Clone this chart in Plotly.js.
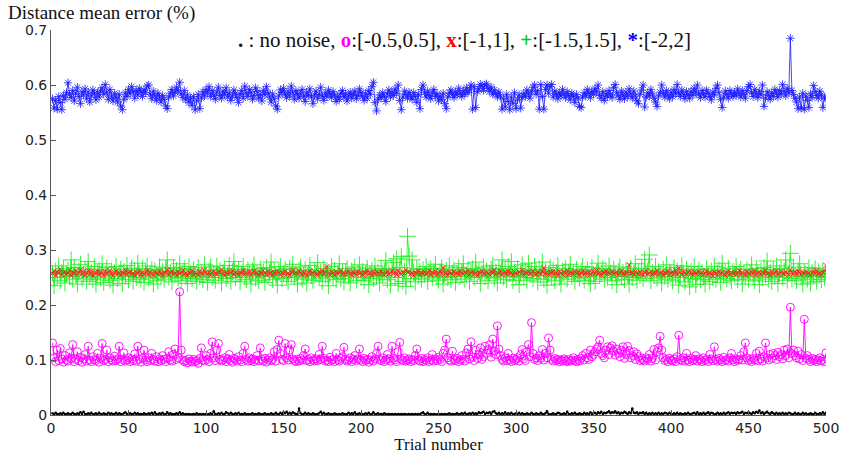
<!DOCTYPE html>
<html>
<head>
<meta charset="utf-8">
<script src="https://cdn.plot.ly/plotly-3.0.1.min.js"></script>
<style>html,body{margin:0;padding:0;background:#fff}#chart{width:844px;height:454px}</style>
</head>
<body>
<div id="chart"></div>
<script>
// Trial numbers 1..500 (x axis categories)
const trials = Array.from({length: 500}, (_, i) => i + 1);
const xTicks = [0, 50, 100, 150, 200, 250, 300, 350, 400, 450, 500];
const yTicks = [0, 0.1, 0.2, 0.3, 0.4, 0.5, 0.6, 0.7];
const yTickLabels = ['0', '0.1', '0.2', '0.3', '0.4', '0.5', '0.6', '0.7'];

// "*" noise [-2,2]
const noise2 = [
.575,.558,.572,.556,.579,.568,.555,.581,.574,.586,.604,.583,.577,.590,.571,.585,.596,.579,.566,.588,
.582,.593,.575,.587,.569,.580,.591,.584,.573,.586,.578,.589,.595,.583,.601,.587,.574,.592,.580,.571,
.585,.577,.569,.583,.562,.555,.574,.586,.579,.592,.584,.597,.588,.576,.590,.582,.594,.587,.579,.591,
.586,.598,.600,.583,.575,.589,.581,.572,.585,.578,.569,.581,.574,.562,.557,.578,.585,.592,.580,.587,
.596,.589,.605,.584,.577,.590,.573,.582,.568,.576,.563,.579,.555,.571,.583,.557,.576,.588,.580,.592,
.585,.597,.579,.590,.582,.574,.587,.596,.581,.576,.589,.583,.595,.578,.586,.572,.580,.591,.584,.577,
.568,.583,.590,.576,.598,.585,.579,.592,.587,.574,.581,.595,.588,.576,.583,.571,.590,.582,.597,.586,
.578,.569,.584,.575,.562,.556,.580,.591,.587,.594,.583,.577,.589,.580,.598,.586,.574,.590,.583,.576,
.584,.592,.579,.570,.587,.581,.593,.578,.566,.582,.589,.575,.583,.596,.580,.572,.586,.579,.591,.584,
.577,.588,.582,.570,.579,.574,.585,.590,.578,.584,.571,.580,.587,.576,.583,.589,.575,.581,.593,.586,
.579,.572,.585,.576,.590,.583,.597,.605,.568,.553,.574,.582,.577,.586,.579,.570,.584,.591,.578,.587,
.581,.593,.585,.600,.572,.555,.578,.589,.583,.576,.587,.580,.574,.586,.579,.568,.583,.557,.592,.600,
.586,.578,.589,.581,.575,.586,.592,.579,.584,.571,.580,.573,.585,.566,.557,.578,.586,.591,.583,.577,
.588,.582,.594,.585,.579,.590,.583,.595,.586,.591,.600,.556,.597,.559,.588,.593,.601,.598,.590,.600,
.602,.594,.588,.596,.583,.591,.585,.578,.587,.580,.556,.575,.560,.583,.570,.555,.578,.566,.586,.557,
.573,.582,.558,.577,.585,.579,.591,.584,.576,.588,.596,.600,.583,.590,.556,.601,.579,.556,.592,.600,
.585,.597,.601,.578,.589,.583,.575,.586,.580,.592,.584,.577,.588,.581,.573,.585,.579,.568,.583,.576,
.561,.559,.578,.586,.580,.592,.585,.577,.589,.583,.594,.587,.600,.581,.576,.588,.572,.584,.579,.590,
.583,.577,.595,.601,.586,.580,.574,.589,.582,.575,.587,.579,.593,.584,.576,.589,.580,.571,.566,.583,
.591,.600,.560,.578,.586,.580,.592,.584,.576,.569,.561,.580,.587,.600,.585,.578,.590,.582,.575,.587,
.579,.592,.584,.601,.586,.579,.591,.583,.575,.588,.582,.576,.589,.581,.594,.586,.600,.583,.577,.590,
.584,.578,.591,.585,.579,.573,.587,.582,.594,.600,.586,.574,.559,.578,.589,.583,.576,.590,.584,.579,
.587,.581,.593,.585,.578,.590,.583,.576,.589,.597,.601,.586,.579,.592,.584,.577,.589,.582,.600,.561,
.576,.588,.581,.574,.586,.579,.592,.585,.578,.590,.583,.601,.588,.580,.594,.586,.685,.590,.583,.576,
.569,.557,.578,.558,.585,.556,.580,.572,.559,.584,.577,.599,.588,.581,.576,.589,.582,.559,.578,.575
];

// "+" noise [-1.5,1.5]
const noise15 = [
.258,.235,.262,.250,.271,.244,.259,.266,.240,.257,.263,.252,.282,.247,.268,.255,.238,.261,.274,.249,
.256,.265,.243,.279,.252,.260,.246,.270,.238,.258,.264,.249,.275,.241,.257,.268,.253,.245,.262,.236,
.259,.270,.248,.256,.265,.239,.261,.252,.272,.246,.258,.267,.243,.263,.250,.276,.254,.247,.266,.241,
.260,.271,.249,.257,.264,.238,.262,.255,.244,.269,.253,.261,.247,.266,.282,.251,.259,.242,.268,.256,
.263,.249,.275,.244,.258,.266,.252,.239,.270,.257,.248,.264,.255,.243,.268,.251,.260,.246,.273,.256,
.241,.262,.269,.250,.257,.245,.271,.255,.263,.240,.259,.266,.248,.254,.272,.243,.261,.279,.250,.257,
.265,.242,.258,.270,.253,.246,.264,.256,.238,.262,.273,.249,.257,.244,.266,.255,.260,.241,.268,.252,
.259,.278,.246,.263,.254,.236,.261,.270,.248,.257,.265,.250,.243,.267,.256,.274,.251,.259,.238,.262,
.269,.247,.255,.264,.240,.258,.272,.253,.245,.261,.256,.277,.249,.260,.243,.266,.254,.262,.235,.258,
.270,.251,.263,.246,.257,.275,.248,.261,.242,.259,.266,.253,.240,.262,.256,.269,.245,.258,.273,.250,
.261,.244,.257,.267,.237,.255,.263,.248,.271,.252,.259,.240,.266,.254,.262,.281,.246,.258,.236,.265,
.277,.250,.284,.239,.268,.288,.243,.262,.234,.325,.289,.248,.282,.259,.242,.266,.253,.261,.247,.264,
.255,.270,.243,.258,.266,.249,.261,.274,.252,.245,.260,.267,.238,.256,.263,.250,.271,.246,.258,.264,
.241,.257,.268,.252,.260,.275,.247,.255,.263,.243,.259,.266,.250,.278,.254,.261,.239,.258,.269,.251,
.262,.244,.257,.265,.272,.249,.260,.240,.266,.255,.282,.251,.263,.246,.270,.257,.279,.244,.260,.253,
.266,.237,.258,.273,.250,.262,.245,.276,.256,.263,.248,.270,.259,.242,.265,.254,.278,.247,.261,.236,
.257,.268,.251,.263,.244,.259,.272,.250,.238,.262,.255,.266,.247,.260,.274,.252,.258,.243,.265,.256,
.249,.262,.270,.245,.257,.264,.251,.239,.268,.256,.243,.260,.276,.253,.258,.266,.247,.262,.250,.271,
.258,.244,.265,.256,.237,.261,.269,.252,.259,.246,.263,.255,.238,.267,.250,.258,.275,.245,.261,.253,
.266,.248,.283,.257,.262,.291,.244,.259,.254,.270,.249,.261,.256,.240,.265,.252,.273,.247,.260,.257,
.244,.268,.253,.262,.236,.250,.271,.258,.242,.265,.255,.233,.261,.248,.270,.237,.257,.264,.246,.259,
.252,.238,.266,.255,.243,.262,.250,.270,.247,.258,.263,.241,.276,.254,.260,.248,.267,.252,.244,.261,
.256,.270,.246,.259,.265,.238,.257,.251,.264,.247,.260,.273,.253,.244,.266,.257,.237,.262,.250,.268,
.255,.280,.247,.259,.243,.264,.252,.271,.239,.258,.266,.250,.261,.282,.245,.257,.294,.248,.269,.253,
.244,.262,.275,.251,.238,.260,.256,.247,.268,.240,.259,.252,.266,.243,.261,.255,.246,.263,.250,.257
];

// "x" noise [-1,1]
const noise1 = [
.257,.262,.254,.260,.258,.265,.255,.259,.261,.256,.258,.263,.253,.260,.257,.262,.255,.259,.264,.256,
.260,.254,.258,.263,.256,.261,.253,.259,.257,.262,.255,.260,.258,.254,.261,.256,.259,.263,.257,.253,
.259,.262,.256,.258,.254,.260,.257,.263,.255,.259,.261,.256,.258,.253,.260,.257,.262,.255,.259,.256,
.258,.263,.255,.260,.257,.254,.261,.258,.256,.262,.257,.253,.260,.258,.264,.255,.259,.262,.256,.258,
.254,.261,.257,.259,.263,.256,.258,.253,.260,.257,.262,.255,.259,.257,.254,.261,.258,.256,.263,.259,
.256,.260,.254,.258,.262,.257,.255,.261,.259,.264,.257,.253,.259,.256,.261,.258,.262,.255,.259,.257,
.254,.260,.258,.263,.256,.259,.257,.261,.255,.258,.262,.256,.259,.254,.260,.257,.263,.258,.255,.261,
.257,.259,.253,.260,.256,.262,.258,.255,.259,.257,.261,.256,.258,.254,.260,.263,.257,.259,.256,.262,
.258,.255,.260,.257,.253,.259,.262,.256,.258,.261,.257,.254,.260,.258,.263,.256,.259,.270,.257,.255,
.260,.258,.254,.261,.257,.259,.263,.256,.258,.255,.259,.262,.257,.254,.260,.258,.256,.261,.257,.259,
.255,.260,.258,.263,.256,.259,.254,.261,.257,.260,.258,.256,.262,.257,.254,.259,.261,.256,.258,.263,
.257,.260,.255,.262,.258,.256,.260,.257,.264,.259,.261,.256,.258,.254,.260,.257,.262,.255,.259,.257,
.260,.256,.258,.263,.255,.259,.257,.261,.254,.258,.262,.257,.268,.256,.259,.254,.260,.258,.256,.261,
.257,.259,.255,.262,.258,.256,.260,.257,.263,.255,.259,.261,.256,.258,.254,.260,.257,.262,.258,.256,
.260,.257,.255,.261,.258,.264,.256,.259,.257,.262,.255,.258,.260,.256,.262,.257,.259,.254,.261,.258,
.256,.260,.257,.263,.255,.259,.258,.261,.256,.258,.262,.257,.255,.260,.258,.256,.261,.268,.257,.259,
.255,.260,.258,.262,.256,.259,.254,.261,.258,.256,.260,.257,.263,.255,.259,.258,.256,.261,.257,.260,
.254,.258,.262,.256,.259,.257,.260,.255,.258,.261,.257,.263,.256,.259,.254,.260,.258,.262,.256,.259,
.257,.261,.256,.258,.260,.255,.259,.262,.257,.256,.260,.258,.273,.257,.259,.255,.261,.258,.256,.260,
.257,.254,.259,.262,.256,.258,.261,.255,.259,.257,.263,.256,.258,.260,.254,.259,.257,.262,.255,.258,
.260,.257,.263,.256,.268,.259,.255,.261,.258,.256,.259,.262,.257,.254,.260,.258,.256,.261,.257,.259,
.255,.258,.262,.256,.259,.257,.253,.260,.258,.255,.261,.257,.259,.256,.254,.258,.262,.256,.259,.257,
.260,.255,.258,.263,.256,.259,.257,.254,.261,.258,.256,.260,.257,.262,.255,.258,.260,.256,.259,.257,
.263,.256,.258,.254,.261,.257,.259,.262,.255,.258,.260,.257,.256,.261,.258,.255,.264,.259,.257,.260,
.256,.262,.258,.255,.259,.257,.261,.256,.258,.254,.259,.261,.257,.263,.256,.258,.255,.260,.262,.272
];

// "o" noise [-0.5,0.5]
const noise05 = [
.131,.104,.097,.118,.099,.121,.102,.096,.108,.100,.098,.113,.103,.128,.097,.101,.115,.099,.105,.096,
.102,.110,.098,.125,.100,.097,.106,.101,.099,.112,.096,.103,.130,.099,.101,.118,.097,.104,.100,.098,
.107,.099,.102,.125,.097,.101,.113,.098,.100,.104,.097,.102,.099,.111,.098,.125,.101,.096,.103,.118,
.100,.097,.104,.099,.112,.101,.098,.106,.097,.102,.099,.108,.101,.097,.103,.115,.100,.098,.110,.120,
.101,.104,.224,.118,.100,.097,.099,.095,.102,.098,.096,.101,.097,.099,.094,.103,.122,.100,.098,.108,
.101,.097,.112,.133,.104,.099,.118,.130,.101,.098,.100,.104,.097,.102,.110,.099,.096,.103,.101,.098,
.106,.100,.097,.112,.125,.101,.098,.104,.099,.102,.097,.100,.108,.099,.122,.101,.098,.103,.096,.100,
.104,.099,.101,.115,.098,.119,.136,.112,.101,.099,.130,.104,.100,.118,.128,.102,.099,.097,.101,.098,
.103,.100,.108,.120,.099,.101,.097,.104,.100,.098,.102,.099,.110,.101,.125,.103,.098,.100,.097,.105,
.099,.101,.097,.112,.100,.098,.103,.106,.123,.101,.098,.100,.104,.097,.101,.108,.099,.102,.120,.100,
.097,.103,.099,.101,.096,.100,.106,.098,.102,.112,.125,.101,.099,.104,.097,.100,.110,.102,.098,.125,
.103,.100,.097,.115,.132,.101,.099,.104,.098,.100,.102,.097,.101,.099,.108,.120,.100,.098,.103,.097,
.101,.099,.104,.097,.100,.110,.098,.102,.099,.105,.101,.097,.112,.118,.138,.104,.100,.098,.116,.101,
.099,.103,.097,.100,.108,.101,.098,.113,.120,.102,.133,.105,.099,.118,.103,.110,.122,.101,.106,.125,
.112,.119,.128,.105,.138,.116,.110,.162,.120,.108,.101,.098,.104,.099,.112,.100,.097,.103,.099,.101,
.104,.098,.110,.119,.102,.099,.115,.128,.106,.168,.112,.101,.104,.099,.108,.103,.119,.100,.112,.104,
.140,.118,.101,.098,.103,.099,.101,.097,.100,.098,.102,.099,.097,.101,.098,.100,.104,.099,.097,.101,
.098,.103,.108,.100,.112,.104,.101,.118,.106,.110,.115,.120,.124,.136,.112,.108,.104,.118,.124,.110,
.122,.126,.116,.109,.120,.112,.106,.118,.124,.103,.110,.125,.117,.104,.108,.115,.101,.111,.106,.099,
.103,.100,.098,.104,.101,.110,.098,.103,.119,.100,.115,.122,.143,.118,.104,.099,.101,.097,.103,.100,
.098,.102,.097,.106,.145,.101,.099,.104,.098,.112,.100,.097,.103,.099,.101,.108,.098,.102,.100,.097,
.104,.099,.101,.097,.110,.102,.099,.124,.101,.098,.103,.100,.097,.105,.099,.101,.098,.104,.112,.100,
.097,.102,.099,.101,.108,.100,.115,.131,.104,.099,.101,.097,.103,.100,.112,.099,.116,.102,.098,.106,
.131,.104,.100,.110,.103,.112,.108,.101,.114,.106,.110,.102,.118,.108,.120,.104,.196,.112,.118,.108,
.104,.116,.102,.110,.099,.174,.103,.108,.101,.097,.103,.099,.101,.097,.100,.104,.098,.101,.097,.113
];

// "." no noise
const noNoise = [
.003,.001,.004,.002,.001,.003,.002,.004,.001,.002,.003,.001,.002,.004,.002,.001,.003,.002,.005,.002,
.006,.002,.001,.003,.002,.004,.001,.002,.003,.001,.004,.002,.001,.003,.002,.001,.004,.002,.003,.001,
.002,.004,.001,.003,.002,.001,.003,.005,.002,.001,.003,.002,.001,.004,.002,.003,.001,.002,.001,.003,
.002,.001,.003,.002,.004,.001,.005,.002,.001,.003,.002,.004,.001,.002,.005,.001,.003,.002,.001,.002,
.003,.001,.005,.002,.003,.001,.002,.001,.002,.001,.001,.002,.001,.003,.001,.002,.001,.002,.001,.002,
.001,.002,.003,.001,.007,.002,.001,.003,.002,.004,.001,.002,.005,.003,.001,.004,.002,.001,.003,.002,
.004,.001,.002,.001,.003,.001,.002,.001,.002,.003,.001,.002,.001,.003,.002,.001,.002,.003,.001,.002,
.001,.003,.002,.001,.004,.002,.001,.004,.002,.005,.003,.006,.002,.004,.001,.005,.003,.002,.001,.012,
.003,.001,.002,.004,.001,.003,.002,.001,.003,.002,.001,.002,.003,.006,.002,.004,.001,.002,.003,.001,
.002,.001,.003,.002,.001,.002,.001,.003,.002,.001,.002,.004,.001,.003,.002,.005,.001,.002,.003,.001,
.002,.001,.003,.002,.004,.001,.002,.005,.001,.002,.003,.001,.002,.001,.003,.002,.001,.002,.001,.002,
.001,.002,.001,.002,.001,.002,.001,.002,.001,.001,.002,.001,.002,.001,.002,.001,.002,.001,.003,.005,
.002,.001,.004,.001,.002,.001,.002,.001,.001,.002,.001,.002,.001,.002,.001,.002,.003,.001,.002,.001,
.002,.003,.001,.002,.003,.002,.004,.001,.002,.003,.002,.004,.001,.003,.002,.005,.003,.004,.006,.002,
.004,.003,.005,.002,.006,.007,.003,.002,.004,.001,.003,.002,.005,.001,.003,.002,.004,.001,.002,.003,
.002,.004,.001,.003,.002,.001,.003,.002,.001,.004,.002,.001,.003,.002,.001,.004,.002,.001,.003,.007,
.002,.001,.002,.003,.001,.002,.004,.003,.001,.002,.003,.001,.006,.002,.001,.003,.002,.004,.001,.002,
.003,.002,.001,.004,.002,.003,.001,.005,.002,.003,.004,.002,.005,.003,.006,.002,.004,.003,.005,.007,
.003,.005,.004,.007,.003,.005,.002,.004,.003,.006,.004,.002,.005,.003,.012,.004,.003,.005,.002,.004,
.003,.005,.002,.004,.001,.003,.002,.004,.001,.003,.002,.004,.001,.003,.002,.004,.003,.002,.004,.002,
.001,.003,.002,.004,.001,.003,.002,.001,.003,.002,.004,.002,.001,.003,.004,.002,.005,.001,.003,.002,
.004,.001,.003,.005,.002,.004,.003,.001,.002,.004,.002,.003,.001,.004,.002,.003,.005,.002,.004,.003,
.004,.002,.005,.003,.004,.006,.002,.004,.003,.005,.003,.002,.005,.003,.006,.004,.008,.003,.005,.002,
.004,.006,.003,.002,.005,.003,.001,.004,.002,.003,.002,.004,.001,.003,.002,.004,.003,.001,.002,.004,
.001,.003,.002,.001,.004,.002,.003,.001,.002,.003,.002,.001,.004,.002,.001,.003,.002,.005,.002,.004
];

const serif = '"Liberation Serif", "Times New Roman", Times, serif';
const sans = '"DejaVu Sans", "Liberation Sans", Arial, sans-serif';

function series(y, color, symbol, size, lw, mlw) {
  return {
    x: trials, y: y, type: 'scatter', mode: 'lines+markers',
    line: {color: color, width: lw},
    marker: {symbol: symbol, size: size, color: color, line: {color: color, width: mlw}},
    hoverinfo: 'x+y', showlegend: false
  };
}

const data = [
  series(noNoise, '#000000', 'circle', 2.5, 1.2, 0),
  series(noise05, '#ff00ff', 'circle-open', 8, 0.9, 0.9),
  series(noise15, '#22ee22', 'cross-thin-open', 12, 0.8, 0.9),
  series(noise1, '#ff2222', 'x-thin-open', 5, 0.7, 0.9),
  series(noise2, '#1a1aff', 'asterisk-open', 7, 0.8, 0.8)
];

const legendText = '<b>.</b> : no noise, <span style="color:#ff00ff"><b>o</b></span>:[-0.5,0.5], ' +
  '<span style="color:#ff0000"><b>x</b></span>:[-1,1], ' +
  '<span style="color:#00cc00"><b>+</b></span>:[-1.5,1.5], ' +
  '<span style="color:#0000ff"><b>*</b></span>:[-2,2]';

const layout = {
  width: 844, height: 454,
  margin: {l: 51, r: 18, t: 30, b: 39, pad: 0},
  paper_bgcolor: '#ffffff', plot_bgcolor: '#ffffff',
  title: {
    text: 'Distance mean error (%)',
    font: {family: serif, size: 19, color: '#111'},
    xref: 'container', yref: 'container',
    x: 8 / 844, xanchor: 'left', y: 1 - 12 / 454, yanchor: 'middle'
  },
  xaxis: {
    range: [0, 500], tickvals: xTicks, ticktext: xTicks.map(String),
    ticks: 'inside', ticklen: 5, tickcolor: '#555', tickwidth: 1,
    showline: true, linecolor: '#555', linewidth: 1, mirror: false,
    showgrid: false, zeroline: false,
    tickfont: {family: sans, size: 14, color: '#222'},
    title: {text: 'Trial number', font: {family: serif, size: 17, color: '#111'}, standoff: 0},
    automargin: false
  },
  yaxis: {
    range: [0, 0.7], tickvals: yTicks, ticktext: yTickLabels,
    ticks: 'inside', ticklen: 5, tickcolor: '#555', tickwidth: 1,
    showline: true, linecolor: '#555', linewidth: 1, mirror: false,
    showgrid: false, zeroline: false,
    tickfont: {family: sans, size: 14, color: '#222'},
    automargin: false
  },
  annotations: [{
    text: legendText, xref: 'paper', yref: 'paper',
    x: (464 - 51) / 775, y: 1 - (40 - 30) / 385, xanchor: 'center', yanchor: 'middle',
    showarrow: false, font: {family: serif, size: 21, color: '#111'}
  }]
};

Plotly.newPlot('chart', data, layout, {displayModeBar: false, staticPlot: true});
</script>
</body>
</html>
